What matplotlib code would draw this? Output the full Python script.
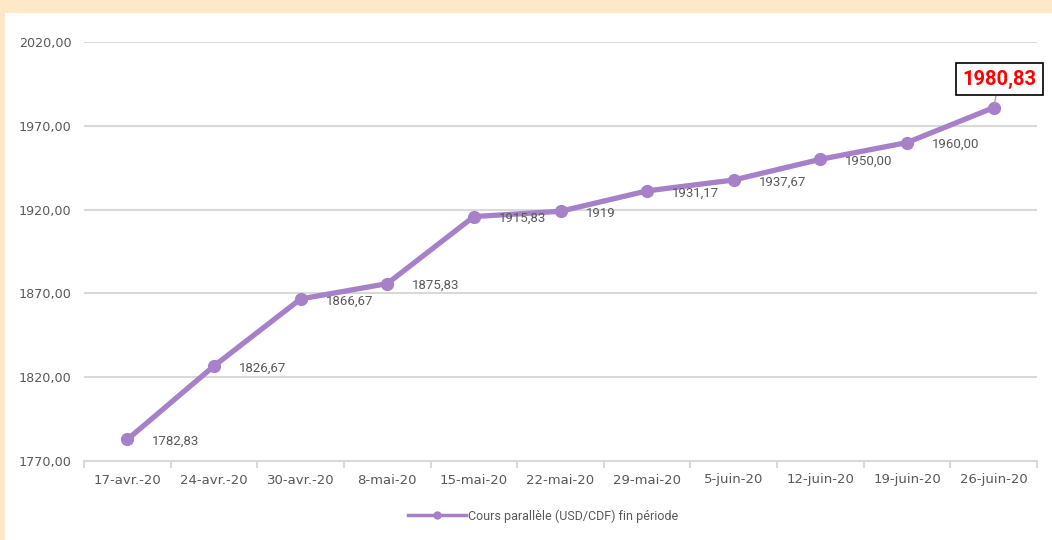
import matplotlib
matplotlib.use("Agg")
import matplotlib.pyplot as plt
from matplotlib.patches import Rectangle
from matplotlib.lines import Line2D
from matplotlib.ticker import FuncFormatter

categories = ["17-avr.-20", "24-avr.-20", "30-avr.-20", "8-mai-20", "15-mai-20",
              "22-mai-20", "29-mai-20", "5-juin-20", "12-juin-20", "19-juin-20", "26-juin-20"]
values = [1782.83, 1826.67, 1866.67, 1875.83, 1915.83, 1919.0, 1931.17, 1937.67, 1950.00, 1960.00, 1980.83]
value_labels = ["1782,83", "1826,67", "1866,67", "1875,83", "1915,83", "1919",
                "1931,17", "1937,67", "1950,00", "1960,00", "1980,83"]
y_ticks = [1770, 1820, 1870, 1920, 1970, 2020]
series_name = "Cours parallèle (USD/CDF) fin période"

W, H = 1052, 540
fig = plt.figure(figsize=(W / 100, H / 100), dpi=100)
fig.patch.set_facecolor("#FDE8C8")
fig.add_artist(Rectangle((5 / W, 0), 1 - 5 / W, 1 - 13 / H, transform=fig.transFigure,
                         facecolor="white", edgecolor="none", zorder=0))

left, right, top, bottom = 84, 1037, 42, 461
ax = fig.add_axes([left / W, 1 - bottom / H, (right - left) / W, (bottom - top) / H])
ax.set_facecolor("none")

line_color = "#A680C8"
text_color = "#595959"
grid_color = "#D9D9D9"
plt.rcParams["font.family"] = ["Roboto", "DejaVu Sans"]

x = list(range(len(categories)))
ax.plot(x, values, color=line_color, lw=3.8, marker="o", markersize=8.5,
        solid_capstyle="round", zorder=3, clip_on=False)

ax.set_xlim(-0.5, len(categories) - 0.5)
ax.set_ylim(y_ticks[0], y_ticks[-1])
ax.set_yticks(y_ticks)
ax.yaxis.set_major_formatter(FuncFormatter(lambda v, p: f"{v:.2f}".replace(".", ",")))
ax.grid(axis="y", color=grid_color, lw=1.5)
ax.set_axisbelow(True)
for s in ["top", "right", "left"]:
    ax.spines[s].set_visible(False)
ax.spines["bottom"].set_color(grid_color)
ax.spines["bottom"].set_linewidth(1.5)

ax.set_xticks(x)
ax.set_xticklabels(categories)
ax.set_xticks([i - 0.5 for i in range(len(categories) + 1)], minor=True)
ax.tick_params(axis="x", which="major", length=0, pad=9, labelsize=9.5, labelcolor=text_color)
ax.tick_params(axis="x", which="minor", length=5, width=1.5, color=grid_color)
ax.tick_params(axis="y", length=0, pad=9, labelsize=9.2, labelcolor=text_color)

for i, (v, lab) in enumerate(zip(values, value_labels)):
    if i == len(values) - 1:
        continue
    ax.annotate(lab, (i, v), xytext=(18, -1.5), textcoords="offset points",
                ha="left", va="center", fontsize=9.5, color=text_color, zorder=4)

i = len(values) - 1
ax.annotate(value_labels[i], (i, values[i]), xytext=(4, 20.5), textcoords="offset points",
            ha="center", va="center", fontsize=14.5, fontweight="bold", color="#FF0000",
            bbox=dict(boxstyle="square,pad=0.33", facecolor="white", edgecolor="black", lw=1.2),
            arrowprops=dict(arrowstyle="-", color="#A6A6A6", lw=1, shrinkA=0, shrinkB=3),
            annotation_clip=False, zorder=5)

handle = Line2D([], [], color=line_color, lw=2.5, marker="o", markersize=5)
leg = fig.legend([handle], [series_name], loc="center", bbox_to_anchor=(543 / W, 1 - 516 / H),
                 frameon=False, fontsize=9, handlelength=4.6, handletextpad=0.15)
for t in leg.get_texts():
    t.set_color(text_color)

fig.savefig("out.png", dpi=100)
